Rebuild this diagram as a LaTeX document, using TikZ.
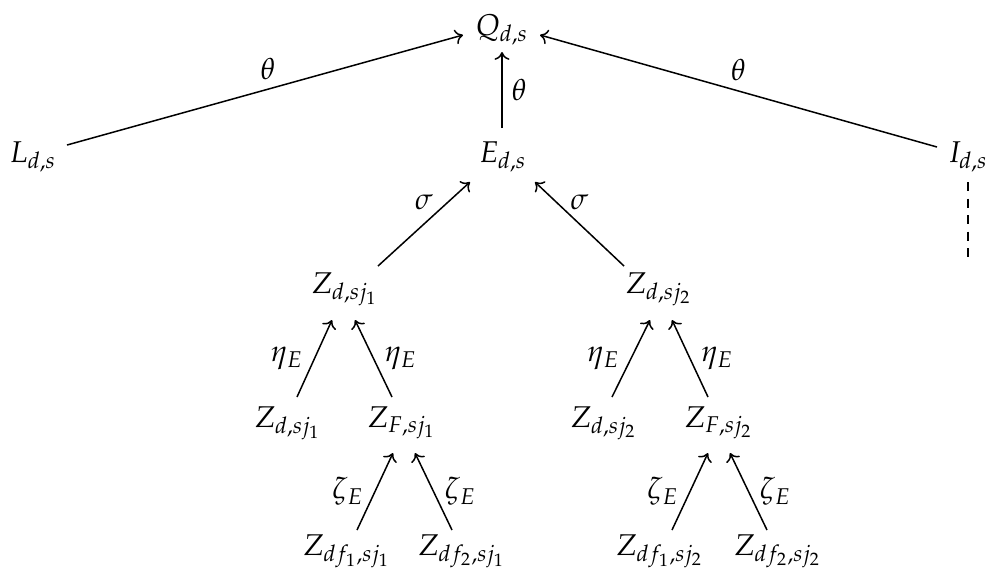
\documentclass[tikz,border=0pt]{standalone}
\usepackage{mathpazo}
\usetikzlibrary{calc,arrows.meta}
\begin{document}
\begin{tikzpicture}[x=0.333pt,y=-0.333pt,
  tn/.style={inner sep=0pt,anchor=base},
  lb/.style={inner sep=0pt},
  arr/.style={-{To[length=2.6pt,width=5pt]},line width=0.5pt}]
\useasboundingbox (0,0) rectangle (989,575);
% nodes
\node[tn] (Q) at (502,35) {$Q_{d,s}$};
\node[tn] (L) at (33,162) {$L_{d,s}$};
\node[tn] (E) at (503,162) {$E_{d,s}$};
\node[tn] (I) at (968,162) {$I_{d,s}$};
\node[tn] (Z1) at (345,293) {$Z_{d,sj_1}$};
\node[tn] (Z2) at (659,293) {$Z_{d,sj_2}$};
\node[tn] (Zd1) at (288,427) {$Z_{d,sj_1}$};
\node[tn] (ZF1) at (402,427) {$Z_{F,sj_1}$};
\node[tn] (Zd2) at (604,427) {$Z_{d,sj_2}$};
\node[tn] (ZF2) at (719,427) {$Z_{F,sj_2}$};
\node[tn] (Za1) at (347,555) {$Z_{df_1,sj_1}$};
\node[tn] (Zb1) at (462,555) {$Z_{df_2,sj_1}$};
\node[tn] (Za2) at (660,555) {$Z_{df_1,sj_2}$};
\node[tn] (Zb2) at (778,555) {$Z_{df_2,sj_2}$};
% connectors
\draw[arr] ($(L.base)+(34,-17)$) -- ($(Q.base)+(-39,0)$) node[lb,pos=0.5,above=3pt,xshift=1pt] {$\theta$};
\draw[arr] ($(I.base)+(-31,-15)$) -- ($(Q.base)+(38,0)$) node[lb,pos=0.5,above=3pt] {$\theta$};
\draw[arr] ($(E.base)+(-1,-34)$) -- ($(Q.base)+(0,17)$) node[lb,midway,right=3pt] {$\theta$};
\draw[arr] ($(Z1.base)+(33,-27)$) -- ($(E.base)+(-33,20)$) node[lb,midway,above=4.5pt] {$\sigma$};
\draw[arr] ($(Z2.base)+(-35,-27)$) -- ($(E.base)+(32,20)$) node[lb,midway,above=4.5pt] {$\sigma$};
\draw[arr] ($(Zd1.base)+(9,-30)$) -- ($(Z1.base)+(-13,27)$) node[lb,midway,left=3.5pt] {$\eta_E$};
\draw[arr] ($(ZF1.base)+(-10,-30)$) -- ($(Z1.base)+(10,27)$) node[lb,midway,right=3.5pt] {$\eta_E$};
\draw[arr] ($(Zd2.base)+(8,-30)$) -- ($(Z2.base)+(-9,27)$) node[lb,midway,left=3.5pt] {$\eta_E$};
\draw[arr] ($(ZF2.base)+(-11,-30)$) -- ($(Z2.base)+(13,27)$) node[lb,midway,right=3.5pt] {$\eta_E$};
\draw[arr] ($(Za1.base)+(10,-25)$) -- ($(ZF1.base)+(-9,26)$) node[lb,midway,left=3.5pt] {$\zeta_E$};
\draw[arr] ($(Zb1.base)+(-10,-25)$) -- ($(ZF1.base)+(13,26)$) node[lb,midway,right=3.5pt] {$\zeta_E$};
\draw[arr] ($(Za2.base)+(12,-25)$) -- ($(ZF2.base)+(-11,26)$) node[lb,midway,left=3.5pt] {$\zeta_E$};
\draw[arr] ($(Zb2.base)+(-11,-25)$) -- ($(ZF2.base)+(11,26)$) node[lb,midway,right=3.5pt] {$\zeta_E$};
\draw[line width=0.5pt,dash pattern=on 3.1pt off 2.4pt] ($(I.base)+(0,20)$) -- ($(I.base)+(0,95)$);
\end{tikzpicture}
\end{document}
